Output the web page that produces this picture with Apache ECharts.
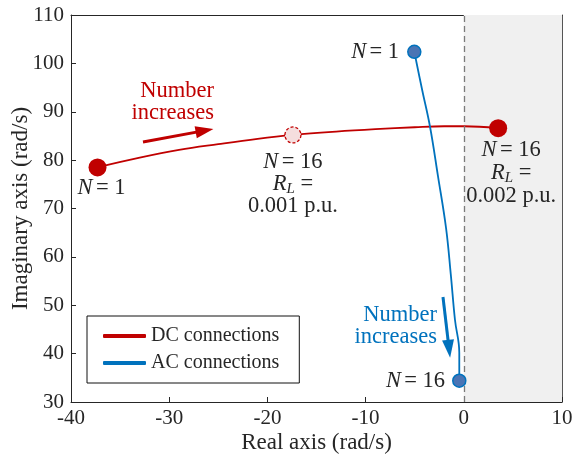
<!DOCTYPE html>
<html><head><meta charset="utf-8">
<script src="https://cdn.jsdelivr.net/npm/echarts@6/dist/echarts.min.js"></script>
<style>html,body{margin:0;padding:0;background:#fff}#c{width:575px;height:457px}</style>
</head><body><div id="c"></div>
<script>
// ---- data ----
const xRange = [-40, 10];
const yRange = [30, 110];
const tickStep = 10;
const dcReal = [-37.3, -33, -29, -25, -21, -17.4, -13, -9, -5, -2, 0, 3.5];
const dcImag = [78.5, 80.5, 82.1, 83.3, 84.4, 85.2, 85.9, 86.4, 86.8, 87.0, 87.0, 86.6];
const acReal = [-5.04, -4.25, -3.44, -2.63, -1.81, -1.33, -0.90, -0.46, -0.46];
const acImag = [102.4, 94.6, 86.9, 76.7, 66.0, 56.5, 47.0, 40.2, 34.4];
const dcMidPoint = [-17.4, 85.2];
const unstableRegion = [0, 10];
const dcArrow = [[-32.67, 83.76], [-26.4, 86.1]];
const acArrow = [[-2.12, 51.7], [-1.5, 41.0]];
const dcTextAnchor = [-25.44, 92.0];
const acTextAnchor = [-2.73, 45.6];

const RED = '#c00000', BLUE = '#0072bd', TXT = '#262626';
const FONT = '"Liberation Serif", "Times New Roman", serif';
const FS = 22.5;
const rich = {
  i: {fontStyle: 'italic', fontFamily: FONT, fontSize: FS, color: TXT},
  s: {fontFamily: FONT, fontSize: 15, color: TXT, fontStyle: 'italic', padding: [10, 0, 0, 0]},
  t: {fontFamily: FONT, fontSize: FS, color: TXT}
};
const pairs = (a, b) => a.map((v, k) => [v, b[k]]);

const chart = echarts.init(document.getElementById('c'), null, {renderer: 'canvas'});
const axisCommon = {
  type: 'value', splitLine: {show: false},
  axisLine: {show: true, onZero: false, lineStyle: {color: TXT, width: 1}}
};
chart.setOption({
  animation: false,
  backgroundColor: '#fff',
  grid: {left: 71, right: 13, top: 15, bottom: 55, outerBoundsMode: 'none', containLabel: false},
  legend: {
    data: ['DC connections', 'AC connections'],
    orient: 'vertical', left: 87, top: 316,
    padding: [10, 20, 10, 16],
    borderColor: '#111', borderWidth: 1, backgroundColor: '#fff',
    itemWidth: 43, itemHeight: 4, itemGap: 7, icon: 'roundRect',
    textStyle: {fontFamily: FONT, fontSize: 20, color: TXT}
  },
  xAxis: [
    Object.assign({}, axisCommon, {
      min: xRange[0], max: xRange[1], interval: tickStep, position: 'bottom',
      axisTick: {show: true, inside: true, length: 5, lineStyle: {color: TXT}},
      axisLabel: {fontFamily: FONT, fontSize: 21, color: TXT, margin: 6},
      name: 'Real axis (rad/s)', nameLocation: 'middle', nameGap: 29, nameMoveOverlap: false,
      nameTextStyle: {fontFamily: FONT, fontSize: 23, color: TXT}
    }),
    Object.assign({}, axisCommon, {
      min: xRange[0], max: xRange[1], interval: tickStep, position: 'top',
      axisTick: {show: false}, axisLabel: {show: false}
    })
  ],
  yAxis: [
    Object.assign({}, axisCommon, {
      min: yRange[0], max: yRange[1], interval: tickStep, position: 'left',
      axisTick: {show: true, inside: true, length: 5, lineStyle: {color: TXT}},
      axisLabel: {fontFamily: FONT, fontSize: 21, color: TXT, margin: 7},
      name: 'Imaginary axis (rad/s)', nameLocation: 'middle', nameGap: 39, nameMoveOverlap: false,
      nameTextStyle: {fontFamily: FONT, fontSize: 23, color: TXT}
    }),
    Object.assign({}, axisCommon, {
      min: yRange[0], max: yRange[1], interval: tickStep, position: 'right',
      axisTick: {show: false}, axisLabel: {show: false},
      axisLine: {show: true, onZero: false, lineStyle: {color: '#555', width: 1}}
    })
  ],
  series: [
    { // shaded region + stability boundary
      type: 'line', data: [], z: 0, silent: true,
      markArea: {silent: true, itemStyle: {color: '#f0f0f0'},
        data: [[{xAxis: unstableRegion[0]}, {xAxis: unstableRegion[1]}]]},
      markLine: {silent: true, symbol: ['none', 'none'], label: {show: false},
        lineStyle: {color: '#7a7a7a', type: [6, 4], width: 1.3},
        data: [{xAxis: unstableRegion[0]}]}
    },
    {
      name: 'DC connections', type: 'line', data: pairs(dcReal, dcImag),
      smooth: 0.4, showSymbol: false, symbol: 'none', z: 3,
      lineStyle: {color: RED, width: 1.8}, itemStyle: {color: RED}
    },
    {
      name: 'AC connections', type: 'line', data: pairs(acReal, acImag),
      smooth: 0.4, showSymbol: false, symbol: 'none', z: 3,
      lineStyle: {color: BLUE, width: 1.8}, itemStyle: {color: BLUE}
    },
    { // arrows
      type: 'line', data: [], z: 4, silent: true,
      markLine: {
        silent: true, symbol: ['none', 'triangle'], symbolSize: [12, 18],
        label: {show: false},
        data: [
          [{coord: dcArrow[0], lineStyle: {color: RED, width: 3, type: 'solid'}, itemStyle: {color: RED}}, {coord: dcArrow[1]}],
          [{coord: acArrow[0], lineStyle: {color: BLUE, width: 3, type: 'solid'}, itemStyle: {color: BLUE}}, {coord: acArrow[1]}]
        ]
      }
    },
    { // markers
      type: 'scatter', z: 6, silent: true, itemStyle: {opacity: 1},
      data: [
        {value: [dcReal[0], dcImag[0]], symbolSize: 18,
          itemStyle: {color: RED, opacity: 1},
          label: {show: true, position: 'bottom', distance: 0, offset: [4, 0], formatter: '{i|N} {t|= 1}', rich}},
        {value: dcMidPoint, symbolSize: 16,
          itemStyle: {color: '#f5dede', borderColor: RED, borderWidth: 1.3, borderType: [3, 2], opacity: 1},
          label: {show: true, position: 'bottom', distance: 7, align: 'center', lineHeight: 22,
            formatter: '{i|N} {t|= 16}\n{i|R}{s|L}{t| =}\n{t|0.001 p.u.}', rich}},
        {value: [dcReal[dcReal.length - 1], dcImag[dcImag.length - 1]], symbolSize: 18,
          itemStyle: {color: RED, opacity: 1},
          label: {show: true, position: 'bottom', distance: 1, offset: [13, 0], align: 'center', lineHeight: 23,
            formatter: '{i|N} {t|= 16}\n{i|R}{s|L}{t| =}\n{t|0.002 p.u.}', rich}},
        {value: [acReal[0], acImag[0]], symbolSize: 13,
          itemStyle: {color: '#4a74b4', borderColor: BLUE, borderWidth: 1.5, opacity: 1},
          label: {show: true, position: 'left', distance: 8, formatter: '{i|N} {t|= 1}', rich}},
        {value: [acReal[acReal.length - 1], acImag[acImag.length - 1]], symbolSize: 13,
          itemStyle: {color: '#4a74b4', borderColor: BLUE, borderWidth: 1.5, opacity: 1},
          label: {show: true, position: 'left', distance: 7, formatter: '{i|N} {t|= 16}', rich}}
      ]
    },
    { // annotation texts
      type: 'scatter', z: 5, silent: true, symbolSize: 0, itemStyle: {opacity: 1},
      data: [
        {value: dcTextAnchor, label: {show: true, position: 'left', distance: 0, align: 'right',
          formatter: 'Number\nincreases', color: RED, fontFamily: FONT, fontSize: 22.5, lineHeight: 22}},
        {value: acTextAnchor, label: {show: true, position: 'left', distance: 0, align: 'right',
          formatter: 'Number\nincreases', color: BLUE, fontFamily: FONT, fontSize: 22.5, lineHeight: 22}}
      ]
    }
  ]
});
</script></body></html>
